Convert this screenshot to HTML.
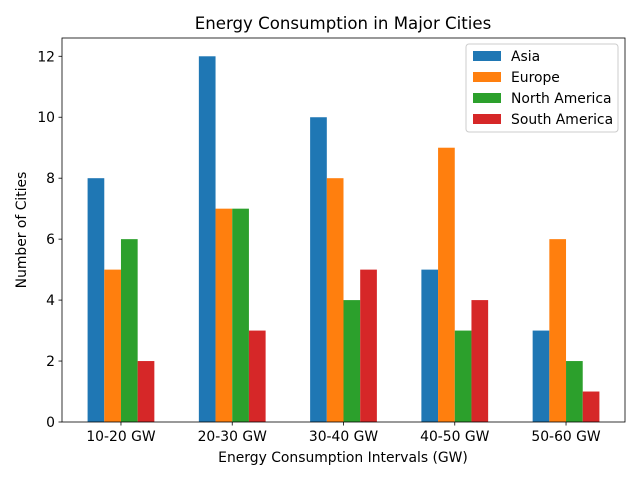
<!DOCTYPE html>
<html><head><meta charset="utf-8"><style>
body{margin:0;background:#fff;}
svg text{font-family:"DejaVu Sans","Liberation Sans",sans-serif;fill:#000;}
</style></head><body>
<svg id="chart" width="640" height="480" xmlns="http://www.w3.org/2000/svg">
<rect width="640" height="480" fill="#fff"/>
<text x="343" y="29" font-size="16.6" text-anchor="middle">Energy Consumption in Major Cities</text>
<g id="bars"></g>
<g id="axes"></g>
<text x="343" y="462" font-size="13.9" text-anchor="middle">Energy Consumption Intervals (GW)</text>
<text transform="translate(26,230) rotate(-90)" font-size="13.9" text-anchor="middle">Number of Cities</text>
<g id="legend"></g>
</svg>
<script>
const categories=["10-20 GW","20-30 GW","30-40 GW","40-50 GW","50-60 GW"];
const seriesNames=["Asia","Europe","North America","South America"];
const asia=[8,12,10,5,3];
const europe=[5,7,8,9,6];
const northAmerica=[6,7,4,3,2];
const southAmerica=[2,3,5,4,1];
const yTicks=[0,2,4,6,8,10,12];
const colors=["#1f77b4","#ff7f0e","#2ca02c","#d62728"];
const series=[asia,europe,northAmerica,southAmerica];
const L=62,R=625,T=38,B=422;
const xmin=-0.53,xmax=4.53,ymax=12.6;
const xs=v=>L+(v-xmin)/(xmax-xmin)*(R-L);
const ys=v=>B-v/ymax*(B-T);
const NS="http://www.w3.org/2000/svg";
function mk(tag,attrs,parent){const e=document.createElementNS(NS,tag);for(const k in attrs)e.setAttribute(k,attrs[k]);parent.appendChild(e);return e;}
const bars=document.getElementById('bars'),axes=document.getElementById('axes'),leg=document.getElementById('legend');
const w=0.15;
series.forEach((s,si)=>{s.forEach((v,i)=>{
 const x0=xs(i+(si-2)*w),x1=xs(i+(si-1)*w);
 const r=mk('rect',{x:x0,y:ys(v),width:x1-x0,height:ys(0)-ys(v),fill:colors[si]},bars);
 
 
});});
const frame=mk('rect',{x:L,y:T,width:R-L,height:B-T,fill:'none',stroke:'#000','stroke-width':0.8},axes);


categories.forEach((c,i)=>{
 const x=xs(i);
 mk('line',{x1:x,x2:x,y1:B,y2:B+3.5,stroke:'#000','stroke-width':0.8},axes);
 const t=mk('text',{x:x,y:B+19,'font-size':13.9,'text-anchor':'middle'},axes);t.textContent=c;
 
 
});
yTicks.forEach(v=>{
 const y=ys(v);
 mk('line',{x1:L-3.5,x2:L,y1:y,y2:y,stroke:'#000','stroke-width':0.8},axes);
 const t=mk('text',{x:L-7,y:y+5,'font-size':13.9,'text-anchor':'end'},axes);t.textContent=v;
 
 
});
const lb=mk('rect',{x:466,y:44,width:152,height:88,rx:3,fill:'#fff','fill-opacity':0.8,stroke:'#ccc'},leg);


seriesNames.forEach((n,i)=>{
 const y=56+i*21;
 const p=mk('rect',{x:473,y:y-5,width:28,height:10,fill:colors[i]},leg);
 
 
 const t=mk('text',{x:511,y:y+5,'font-size':13.9},leg);t.textContent=n;
 
 
});
</script>
</body></html>
